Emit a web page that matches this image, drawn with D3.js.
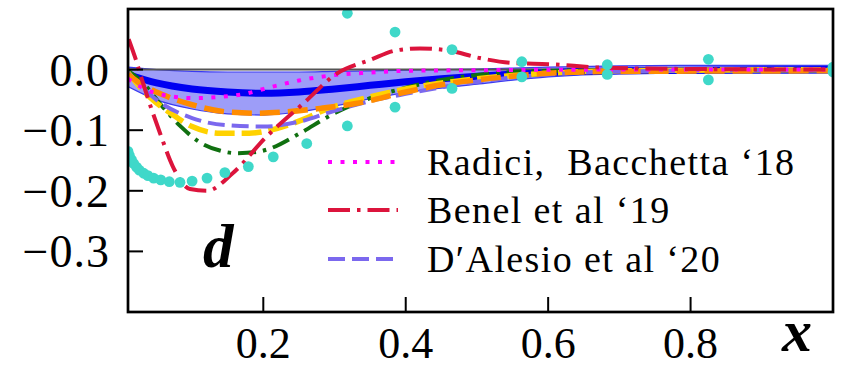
<!DOCTYPE html>
<html><head><meta charset="utf-8">
<script src="https://cdn.jsdelivr.net/npm/d3@7"></script>
<style>body{margin:0;background:#fff}</style>
</head><body><svg id="c" width="842" height="369"></svg>
<script>
// ---- data ----
const xTicks=[0.2,0.4,0.6,0.8];
const xTickLabels=["0.2","0.4","0.6","0.8"];
const yTicks=[0,-0.1,-0.2,-0.3];
const yTickLabels=["0.0","\u22120.1","\u22120.2","\u22120.3"];

const bandX=[0.01,0.05,0.1,0.15,0.2,0.25,0.3,0.35,0.4,0.5,0.6,0.7,0.8,1.0];
const bandUp=[0.004,0.0,-0.003,-0.004,-0.004,-0.004,-0.003,-0.002,-0.001,0.001,0.004,0.006,0.007,0.007];
const bandLo=[-0.028,-0.05,-0.065,-0.073,-0.075,-0.07,-0.06,-0.048,-0.038,-0.024,-0.012,-0.007,-0.006,-0.006];

const centralX=[0.01,0.05,0.1,0.15,0.2,0.25,0.3,0.35,0.4,0.45,0.5,0.6,0.7,0.8,1.0];
const centralY=[-0.008,-0.022,-0.032,-0.037,-0.039,-0.037,-0.032,-0.026,-0.02,-0.015,-0.011,-0.005,-0.002,-0.001,0];

const radiciX=[0.01,0.03,0.06,0.1,0.14,0.17,0.21,0.25,0.3,0.35,0.4,0.5,0.7,1.0];
const radiciY=[-0.015,-0.03,-0.042,-0.047,-0.045,-0.041,-0.029,-0.018,-0.009,-0.005,-0.002,-0.001,0,0];

const benelX=[0.011,0.02,0.031,0.043,0.055,0.073,0.097,0.121,0.157,0.205,0.256,0.304,0.35,0.388,0.42,0.458,0.504,0.55,0.6,0.68,0.8,1.0];
const benelY=[0.05,0.02,-0.022,-0.065,-0.105,-0.16,-0.197,-0.2,-0.171,-0.11,-0.056,-0.006,0.016,0.032,0.035,0.032,0.019,0.011,0.009,0.003,0.001,0];

const greenX=[0.01,0.027,0.059,0.085,0.111,0.14,0.163,0.19,0.21,0.247,0.3,0.35,0.4,0.45,0.5,0.55,0.6,0.7,0.8,1.0];
const greenY=[-0.002,-0.017,-0.062,-0.095,-0.12,-0.134,-0.138,-0.136,-0.13,-0.108,-0.072,-0.047,-0.03,-0.017,-0.009,-0.004,-0.002,-0.001,0,0];

const goldX=[0.01,0.04,0.07,0.1,0.14,0.18,0.22,0.25,0.29,0.35,0.4,0.5,0.6,0.7,1.0];
const goldY=[-0.005,-0.045,-0.072,-0.094,-0.105,-0.105,-0.097,-0.085,-0.065,-0.045,-0.032,-0.015,-0.006,-0.002,0];

const alesioX=[0.01,0.05,0.1,0.15,0.2,0.25,0.3,0.35,0.4,0.5,0.6,0.7,1.0];
const alesioY=[-0.005,-0.05,-0.08,-0.092,-0.094,-0.086,-0.068,-0.052,-0.04,-0.02,-0.008,-0.003,0];

const orangeX=[0.01,0.03,0.06,0.1,0.15,0.19,0.23,0.28,0.33,0.4,0.45,0.5,0.55,0.6,0.7,1.0];
const orangeY=[-0.008,-0.025,-0.042,-0.058,-0.07,-0.072,-0.07,-0.064,-0.056,-0.037,-0.025,-0.017,-0.011,-0.006,-0.003,-0.002];

const dotX=[0.01,0.012,0.015,0.018,0.022,0.026,0.032,0.038,0.046,0.056,0.068,0.083,0.1,0.121,0.146,0.179,0.214,0.261,0.318,0.385,0.465,0.563,0.683,0.825,1.0];
const dotLo=[-0.135,-0.142,-0.149,-0.155,-0.161,-0.166,-0.171,-0.175,-0.179,-0.182,-0.185,-0.186,-0.184,-0.179,-0.17,-0.16,-0.144,-0.122,-0.093,-0.062,-0.031,-0.012,-0.008,-0.017,-0.004];
const dotUpX=[0.214,0.261,0.318,0.385,0.465,0.563,0.683,0.825,1.0];
const dotUp=[0.15,0.124,0.093,0.062,0.033,0.013,0.008,0.017,0.004];

const legendLabels=["Radici,\u00a0 Bacchetta \u201818","Benel et al \u201819","D\u2032Alesio et al \u201820"];

// ---- chart ----
const svg=d3.select("#c");
const L=128,R=833,T=9,B=312;
const x=d3.scaleLinear().domain([0.01,1.0]).range([L,R]);
const y=d3.scaleLinear().domain([-0.4,0.1]).range([B,T]);

svg.append("defs").append("clipPath").attr("id","clip")
  .append("rect").attr("x",L).attr("y",T).attr("width",R-L).attr("height",B-T);
const g=svg.append("g").attr("clip-path","url(#clip)");

const zip=(xs,ys)=>xs.map((v,i)=>[v,ys[i]]);
const line=d3.line().x(d=>x(d[0])).y(d=>y(d[1])).curve(d3.curveMonotoneX);

// band
const area=d3.area().x(d=>x(d[0])).y0(d=>y(d[2])).y1(d=>y(d[1])).curve(d3.curveMonotoneX);
g.append("path").datum(bandX.map((v,i)=>[v,bandUp[i],bandLo[i]]))
  .attr("d",area).attr("fill","#7c7cf6").attr("fill-opacity",0.75)
  .attr("stroke","#3b3bf0").attr("stroke-width",1.2);
// zero line
g.append("line").attr("x1",L).attr("x2",R).attr("y1",y(0)).attr("y2",y(0))
  .attr("stroke","#555").attr("stroke-width",2);
// central
g.append("path").datum(zip(centralX,centralY)).attr("d",line)
  .attr("fill","none").attr("stroke","#0000f2").attr("stroke-width",7);

const styles={
  radici:{c:"#ff00ff",w:4,d:"4,8.5"},
  benel:{c:"#dc143c",w:4,d:"22,7,3.5,7"},
  green:{c:"#107010",w:4,d:"18,7,3.5,7"},
  gold:{c:"#ffd200",w:5.5,d:"20,7"},
  alesio:{c:"#7b68ee",w:4,d:"17,7"},
  orange:{c:"#ff8c00",w:5.5,d:"20,8"}
};
function draw(xs,ys,s){
  g.append("path").datum(zip(xs,ys)).attr("d",line).attr("fill","none")
   .attr("stroke",s.c).attr("stroke-width",s.w).attr("stroke-dasharray",s.d);
}
draw(greenX,greenY,styles.green);
draw(goldX,goldY,styles.gold);
draw(alesioX,alesioY,styles.alesio);
draw(orangeX,orangeY,styles.orange);
draw(radiciX,radiciY,styles.radici);
draw(benelX,benelY,styles.benel);

// turquoise markers
const dots=zip(dotX,dotLo).concat(zip(dotUpX,dotUp));
g.selectAll("circle.m").data(dots).enter().append("circle")
  .attr("cx",d=>x(d[0])).attr("cy",d=>y(d[1])).attr("r",5.4).attr("fill","#3fd8c9");

// frame
svg.append("rect").attr("x",L).attr("y",T).attr("width",R-L).attr("height",B-T)
  .attr("fill","none").attr("stroke","#000").attr("stroke-width",2.7);

// ticks
const font="'Liberation Serif', 'Times New Roman', serif";
svg.selectAll("line.xt").data(xTicks).enter().append("line")
  .attr("x1",d=>x(d)).attr("x2",d=>x(d)).attr("y1",B).attr("y2",B-15)
  .attr("stroke","#000").attr("stroke-width",2);
svg.selectAll("line.yt").data(yTicks).enter().append("line")
  .attr("x1",L).attr("x2",L+15).attr("y1",d=>y(d)).attr("y2",d=>y(d))
  .attr("stroke","#000").attr("stroke-width",2);
svg.selectAll("text.xl").data(xTicks).enter().append("text")
  .attr("x",d=>x(d)).attr("y",358).attr("text-anchor","middle")
  .attr("font-family",font).attr("font-size",44).text((d,i)=>xTickLabels[i]);
svg.selectAll("text.yl").data(yTicks).enter().append("text")
  .attr("x",110).attr("y",d=>y(d)+16).attr("text-anchor","end")
  .attr("font-family",font).attr("font-size",46).attr("letter-spacing",1)
  .text((d,i)=>yTickLabels[i]);

// axis label x and panel label d
svg.append("text").attr("x",797).attr("y",351).attr("text-anchor","middle")
  .attr("font-family",font).attr("font-size",60).attr("font-weight","bold").attr("font-style","italic").text("x");
svg.append("text").attr("x",203).attr("y",267)
  .attr("font-family",font).attr("font-size",61).attr("font-weight","bold").attr("font-style","italic").text("d");

// legend
const legStyles=[styles.radici,styles.benel,styles.alesio];
const legY=[175,223,272];
legendLabels.forEach((lab,i)=>{
  const s=legStyles[i];
  svg.append("line").attr("x1",328).attr("x2",398).attr("y1",legY[i]-13).attr("y2",legY[i]-13)
    .attr("stroke",s.c).attr("stroke-width",s.w).attr("stroke-dasharray",s.d);
  svg.append("text").attr("x",427).attr("y",legY[i]).attr("font-family",font)
    .attr("font-size",38).attr("letter-spacing",1.4).text(lab);
});
</script></body></html>
